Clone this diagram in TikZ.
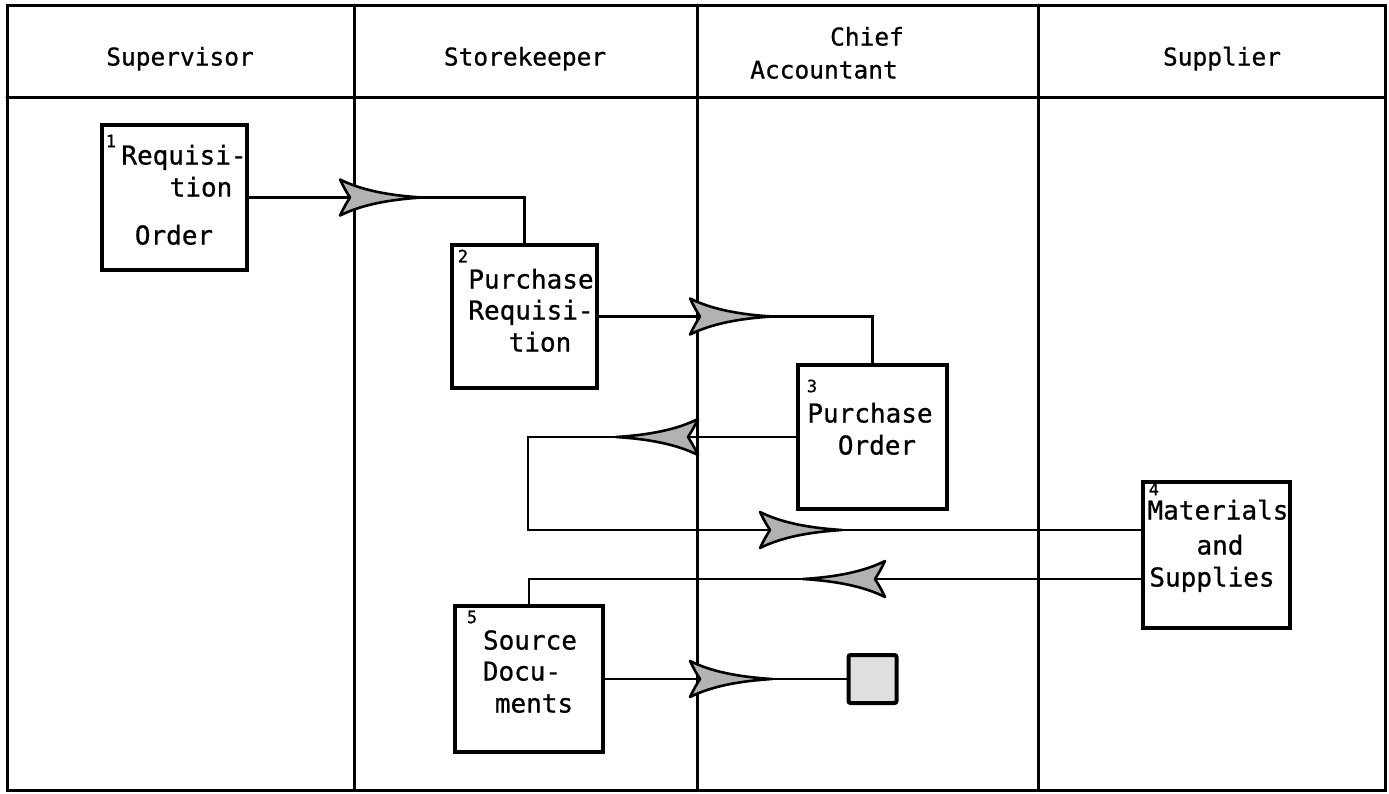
\documentclass[tikz,border=0pt]{standalone}
\usepackage{fontspec}
\setmonofont[FakeBold=0.8]{DejaVu Sans Mono}
\begin{document}
\begin{tikzpicture}[x=1pt,y=-1pt,
  frame/.style={line width=3pt, line cap=round},
  box/.style={draw=black, line width=3.2pt, minimum width=#1, inner sep=0pt},
  conn/.style={line width=2.8pt},
  hdr/.style={inner sep=0pt, font=\ttfamily\fontsize{24.5}{28}\selectfont, text height=17pt, text depth=0pt},
  txt/.style={inner sep=0pt, font=\ttfamily\fontsize{26}{30}\selectfont, text height=19pt, text depth=0pt},
  num/.style={inner sep=0pt, font=\ttfamily\fontsize{17}{19}\selectfont},
  fhead/.pic={
    \filldraw[fill=gray!60, draw=black, line width=2.6pt, line join=round]
      (82,0) .. controls (50,-2) and (22,-7) .. (0,-18)
      .. controls (5,-8) .. (10,0)
      .. controls (5,8) .. (0,18)
      .. controls (22,7) and (50,2) .. (82,0) -- cycle;
  }]
\useasboundingbox (0,0) rectangle (1389,793);
% frame
\draw[frame] (7,5) rectangle (1385,790);
\draw[frame] (7,97) -- (1385,97);
\draw[frame] (354,5) -- (354,790);
\draw[frame] (697,5) -- (697,790);
\draw[frame] (1038,5) -- (1038,790);
% headers
\node[hdr] (h1) at (180,57) {Supervisor};
\node[hdr] (h2) at (525,57) {Storekeeper};
\node[hdr] (h3a) at (867,37) {Chief};
\node[hdr] (h3b) at (824,70) {Accountant};
\node[hdr] (h4) at (1222,57) {Supplier};
% boxes
\node[box=145pt, minimum height=145pt] (b1) at (174.5,197.5) {};
\node[box=145pt, minimum height=143pt] (b2) at (524.5,316.5) {};
\node[box=149pt, minimum height=144pt] (b3) at (872.5,437) {};
\node[box=147pt, minimum height=146pt] (b4) at (1216.5,555) {};
\node[box=148pt, minimum height=146pt] (b5) at (529,679) {};
\node[draw=black, line width=4pt, fill=gray!25, minimum size=48pt, inner sep=0pt, rounded corners=2pt] (sq) at (872.5,679) {};
% box texts
\node[num] (n1) at (111,141) {1};
\node[txt] (t1a) at (184,155) {Requisi-};
\node[txt] (t1b) at (201,187) {tion};
\node[txt] (t1c) at (174,235) {Order};
\node[num] (n2) at (463,256) {2};
\node[txt] (t2a) at (531,279) {Purchase};
\node[txt] (t2b) at (531,310) {Requisi-};
\node[txt] (t2c) at (540,342) {tion};
\node[num] (n3) at (812,386) {3};
\node[txt] (t3a) at (870,413) {Purchase};
\node[txt] (t3b) at (877,445) {Order};
\node[num] (n4) at (1154,489) {4};
\node[txt] (t4a) at (1218,510) {Materials};
\node[txt] (t4b) at (1220,545) {and};
\node[txt] (t4c) at (1212,577) {Supplies};
\node[num] (n5) at (472,617) {5};
\node[txt] (t5a) at (530,640) {Source};
\node[txt] (t5b) at (522,671) {Docu-};
\node[txt] (t5c) at (534,703) {ments};
% connectors
\coordinate (c1) at (528,437);
\coordinate (c2) at (528,530);
\draw[conn] (b1.east) -| (b2.north);
\draw[conn] (b2.east) -| (b3.north);
\draw[conn] (b3.west) -- (c1) -- (c2) -- (c2 -| b4.west);
\draw[conn] ([yshift=-24pt]b4.west) -| (b5.north);
\draw[conn] (b5.east) -- (sq.west);
% flow heads
\pic at (340,197.5) {fhead};
\pic at (690,316.5) {fhead};
\pic[rotate=180] at (698,437) {fhead};
\pic at (760,530) {fhead};
\pic[rotate=180] at (885,579) {fhead};
\pic at (690,679) {fhead};
\end{tikzpicture}
\end{document}
